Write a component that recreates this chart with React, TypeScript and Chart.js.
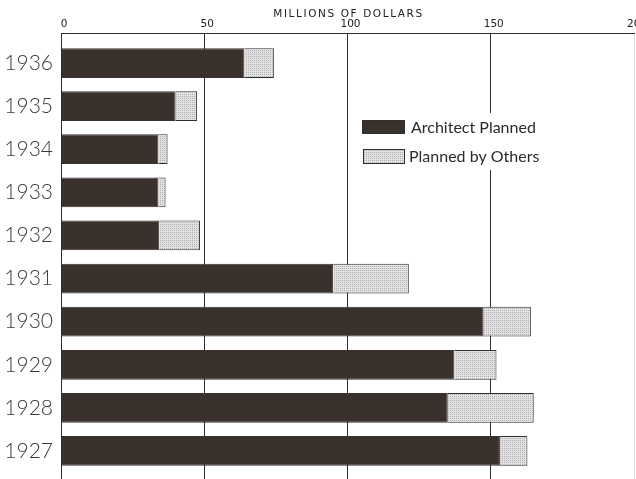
import React, { useEffect, useRef } from "react";
import { Chart, registerables } from "chart.js";

Chart.register(...registerables);

const years = ["1936", "1935", "1934", "1933", "1932", "1931", "1930", "1929", "1928", "1927"];
const architectPlanned = [64, 40, 34, 34, 34.3, 95, 147.5, 137.3, 135, 153.2];
const plannedByOthers = [10.3, 7.5, 3.2, 2.5, 14.2, 26.4, 16.5, 14.7, 30, 9.6];
const seriesNames = ["Architect Planned", "Planned by Others"];
const xTicks = [0, 50, 100, 150, 200];
const axisTitle = "MILLIONS OF DOLLARS";

const DARK = "#3a312d";
const LINE = "#2e2e2e";
const YEAR_FONT = "Lato";
const TEXT_FONT = "Lato";
const SMALL_FONT = "'DejaVu Sans'";

function makeStipple(): CanvasPattern | string {
  const c = document.createElement("canvas");
  c.width = 2;
  c.height = 2;
  const g = c.getContext("2d");
  if (!g) return "#d4d4d4";
  g.fillStyle = "#e2e2e2";
  g.fillRect(0, 0, 2, 2);
  g.fillStyle = "#b0b0b0";
  g.fillRect(0, 0, 1, 1);
  const p = g.createPattern(c, "repeat");
  return p || "#d4d4d4";
}

const spacedTitle = {
  id: "spacedTitle",
  afterDraw(chart: any) {
    const ctx = chart.ctx as any;
    const xs = chart.scales.x;
    ctx.save();
    ctx.fillStyle = "#222";
    ctx.font = `10.5px ${SMALL_FONT}`;
    ctx.letterSpacing = "1.6px";
    ctx.textBaseline = "middle";
    ctx.textAlign = "center";
    ctx.fillText(axisTitle, (xs.left + xs.right) / 2 + 1, 14);
    ctx.restore();
  },
};

const floatLegend = {
  id: "floatLegend",
  afterDraw(chart: any) {
    const ctx = chart.ctx as CanvasRenderingContext2D;
    const ds = chart.data.datasets;
    ctx.save();
    ctx.fillStyle = "#ffffff";
    ctx.fillRect(356, 113, 194, 57);
    ctx.fillStyle = ds[0].backgroundColor;
    ctx.fillRect(362, 120, 43, 14);
    ctx.strokeStyle = LINE;
    ctx.lineWidth = 1;
    ctx.strokeRect(362.5, 120.5, 42, 13);
    ctx.fillStyle = ds[1].backgroundColor;
    ctx.fillRect(363, 149, 42, 15);
    ctx.strokeRect(363.5, 149.5, 41, 14);
    ctx.fillStyle = "#2a2a2a";
    ctx.font = `16px ${TEXT_FONT}`;
    ctx.textBaseline = "middle";
    ctx.textAlign = "left";
    ctx.fillText(ds[0].label, 411, 128);
    ctx.fillText(ds[1].label, 409, 157);
    ctx.restore();
  },
};

export default function App() {
  const ref = useRef<HTMLCanvasElement | null>(null);

  useEffect(() => {
    if (!ref.current) return;
    const stipple = makeStipple();
    const chart = new Chart(ref.current, {
      type: "bar",
      data: {
        datasets: [
          {
            label: seriesNames[0],
            data: architectPlanned.map((v, i) => ({ x: v, y: i })),
            backgroundColor: DARK,
            borderColor: DARK,
            borderWidth: 1,
            categoryPercentage: 1,
            barPercentage: 0.69,
          },
          {
            label: seriesNames[1],
            data: plannedByOthers.map((v, i) => ({ x: v, y: i })),
            backgroundColor: stipple as any,
            borderColor: LINE,
            borderWidth: 1,
            categoryPercentage: 1,
            barPercentage: 0.69,
          },
        ],
      },
      plugins: [floatLegend, spacedTitle],
      options: {
        indexAxis: "y",
        animation: false,
        responsive: false,
        layout: { padding: { left: 0, top: 0, right: 26, bottom: 0 } },
        plugins: {
          legend: { display: false },
          tooltip: { enabled: false },
        },
        scales: {
          x: {
            type: "linear",
            position: "top",
            stacked: true,
            min: 0,
            max: 200,
            bounds: "data",
            afterBuildTicks: (scale: any) => {
              scale.ticks = xTicks.map((v) => ({ value: v }));
            },
            afterFit: (scale: any) => {
              scale.height = 33;
              scale.paddingLeft = 0;
              scale.paddingRight = 0;
            },
            ticks: {
              color: "#222",
              padding: 2,
              labelOffset: 3,
              font: { family: SMALL_FONT, size: 10.5 },
              maxRotation: 0,
            },
            grid: {
              drawTicks: false,
              color: (c: any) => (c.tick && c.tick.value === 200 ? "rgba(0,0,0,0.12)" : LINE),
              lineWidth: 1,
            },
            border: { display: true, color: LINE, width: 1 },
            title: { display: false, text: axisTitle },
          },
          y: {
            type: "linear",
            reverse: true,
            stacked: true,
            offset: false,
            bounds: "data",
            min: -0.696,
            max: 9.65,
            afterBuildTicks: (scale: any) => {
              scale.ticks = years.map((_, i) => ({ value: i }));
            },
            afterFit: (scale: any) => {
              scale.width = 61;
              scale.paddingTop = 0;
              scale.paddingBottom = 0;
            },
            ticks: {
              color: "#3a3a3a",
              padding: 8,
              font: { family: YEAR_FONT, size: 21, weight: "300" as any },
              callback: (v: any) => years[v as number] ?? "",
            },
            grid: { display: false, offset: false, drawTicks: false },
            border: { display: true, color: LINE, width: 1 },
          },
        },
      } as any,
    });
    return () => chart.destroy();
  }, []);

  return (
    <div
      style={{
        position: "fixed",
        left: 0,
        top: 0,
        width: 636,
        height: 479,
        overflow: "hidden",
        background: "#fff",
      }}
    >
      <canvas ref={ref} width={660} height={479} style={{ display: "block" }} />
    </div>
  );
}
